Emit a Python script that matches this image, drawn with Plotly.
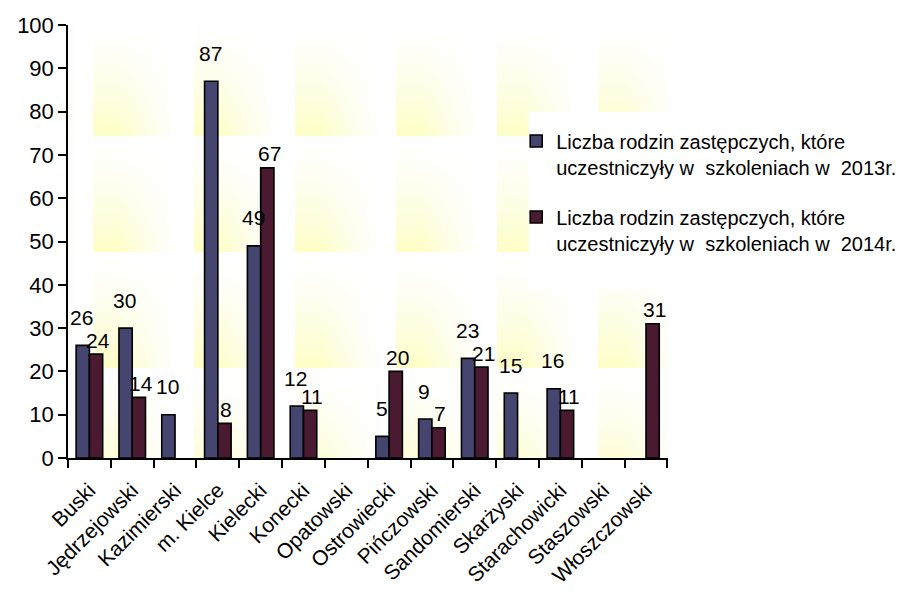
import base64
import struct
import zlib

import numpy as np
import plotly.graph_objects as go

powiaty = ['Buski', 'Jędrzejowski', 'Kazimierski', 'm. Kielce', 'Kielecki', 'Konecki',
           'Opatowski', 'Ostrowiecki', 'Pińczowski', 'Sandomierski', 'Skarżyski',
           'Starachowicki', 'Staszowski', 'Włoszczowski']
rodziny_2013 = [26, 30, 10, 87, 49, 12, None, 5, 9, 23, 15, 16, None, None]
rodziny_2014 = [24, 14, None, 8, 67, 11, None, 20, 7, 21, None, 11, None, 31]

nazwa_2013 = 'Liczba rodzin zastępczych, które<br>uczestniczyły w  szkoleniach w  2013r.'
nazwa_2014 = 'Liczba rodzin zastępczych, które<br>uczestniczyły w  szkoleniach w  2014r.'

FONT = 'Arial, Liberation Sans, sans-serif'
KOLOR_2013 = '#45456F'
KOLOR_2014 = '#4A1A30'


def png_data_uri(arr):
    # minimal png encoder, no PIL needed
    h, w, _ = arr.shape
    raw = b''.join(b'\x00' + arr[r].tobytes() for r in range(h))

    def chunk(tag, data):
        c = tag + data
        return struct.pack('>I', len(data)) + c + struct.pack('>I', zlib.crc32(c) & 0xffffffff)

    png = b'\x89PNG\r\n\x1a\n'
    png += chunk(b'IHDR', struct.pack('>IIBBBBB', w, h, 8, 2, 0, 0, 0))
    png += chunk(b'IDAT', zlib.compress(raw, 9))
    png += chunk(b'IEND', b'')
    return 'data:image/png;base64,' + base64.b64encode(png).decode()


def tlo_kafelki(w=600, h=433):
    # tiled pale-yellow gradient like the Excel fill
    xs = np.arange(w)
    ys = np.arange(h)
    u = ((xs - 25) % 101) / 101.0
    v = ((ys + 5) % 115.7) / 115.7
    gx = np.clip((0.85 - u) / 0.6, 0, 1) ** 1.3
    gy = np.clip(v, 0, 1) ** 1.5
    s = gy[:, None] * gx[None, :]
    img = np.zeros((h, w, 3), dtype=np.float64)
    img[..., 0] = 255 - 1 * s
    img[..., 1] = 255 - 1 * s
    img[..., 2] = 255 - 57 * s
    return np.clip(img, 0, 255).astype(np.uint8)


fig = go.Figure()
fig.add_trace(go.Bar(
    x=powiaty, y=rodziny_2013, name=nazwa_2013, legendgroup='a',
    marker=dict(color=KOLOR_2013, line=dict(color='black', width=1.6)),
))
fig.add_trace(go.Bar(
    x=powiaty, y=rodziny_2014, name=nazwa_2014, legendgroup='b',
    marker=dict(color=KOLOR_2014, line=dict(color='black', width=1.6)),
))

# data labels (Excel puts them well above the bar top)
adnotacje = []
for wartosci, dx, dy in ((rodziny_2013, -7.5, 28), (rodziny_2014, 8.5, 14)):
    for p, w in zip(powiaty, wartosci):
        if w is None:
            continue
        adnotacje.append(dict(
            x=p, y=w, text=str(w), showarrow=False, xshift=dx, yshift=dy,
            yanchor='middle', font=dict(size=21, color='black', family=FONT),
        ))

fig.update_layout(
    width=904, height=604,
    margin=dict(l=60, r=244, t=17, b=154, autoexpand=False),
    paper_bgcolor='white',
    plot_bgcolor='rgba(0,0,0,0)',
    font=dict(family=FONT, color='black', size=21),
    barmode='group', bargap=0.38, bargroupgap=0,
    showlegend=True,
    legend=dict(
        x=0.747, y=0.777, xanchor='left', yanchor='top',
        bgcolor='rgba(0,0,0,0)', font=dict(size=20, color='black', family=FONT),
        valign='top', traceorder='grouped', tracegroupgap=21,
        itemwidth=30,
    ),
    xaxis=dict(
        type='category', tickangle=-45, tickson='boundaries',
        ticks='outside', ticklen=8, tickwidth=1.5, tickcolor='black',
        ticklabelstandoff=10,
        showline=True, linecolor='black', linewidth=1.5,
        showgrid=False, tickfont=dict(size=21, family=FONT),
    ),
    yaxis=dict(
        range=[0, 100], dtick=10, ticks='outside', ticklen=8, tickwidth=1.5,
        tickcolor='black', showline=True, linecolor='black', linewidth=1.5,
        showgrid=False, zeroline=False, tickfont=dict(size=22, family=FONT),
    ),
    annotations=adnotacje,
    shapes=[dict(
        type='rect', xref='paper', yref='paper', x0=0.768, x1=1.4, y0=0.39, y1=0.799,
        fillcolor='white', line=dict(width=0), layer='above',
    )],
    images=[dict(
        source=png_data_uri(tlo_kafelki()), xref='paper', yref='paper',
        x=0, y=1, sizex=1, sizey=1, xanchor='left', yanchor='top',
        sizing='stretch', layer='below',
    )],
)

fig.write_html('out.html')
